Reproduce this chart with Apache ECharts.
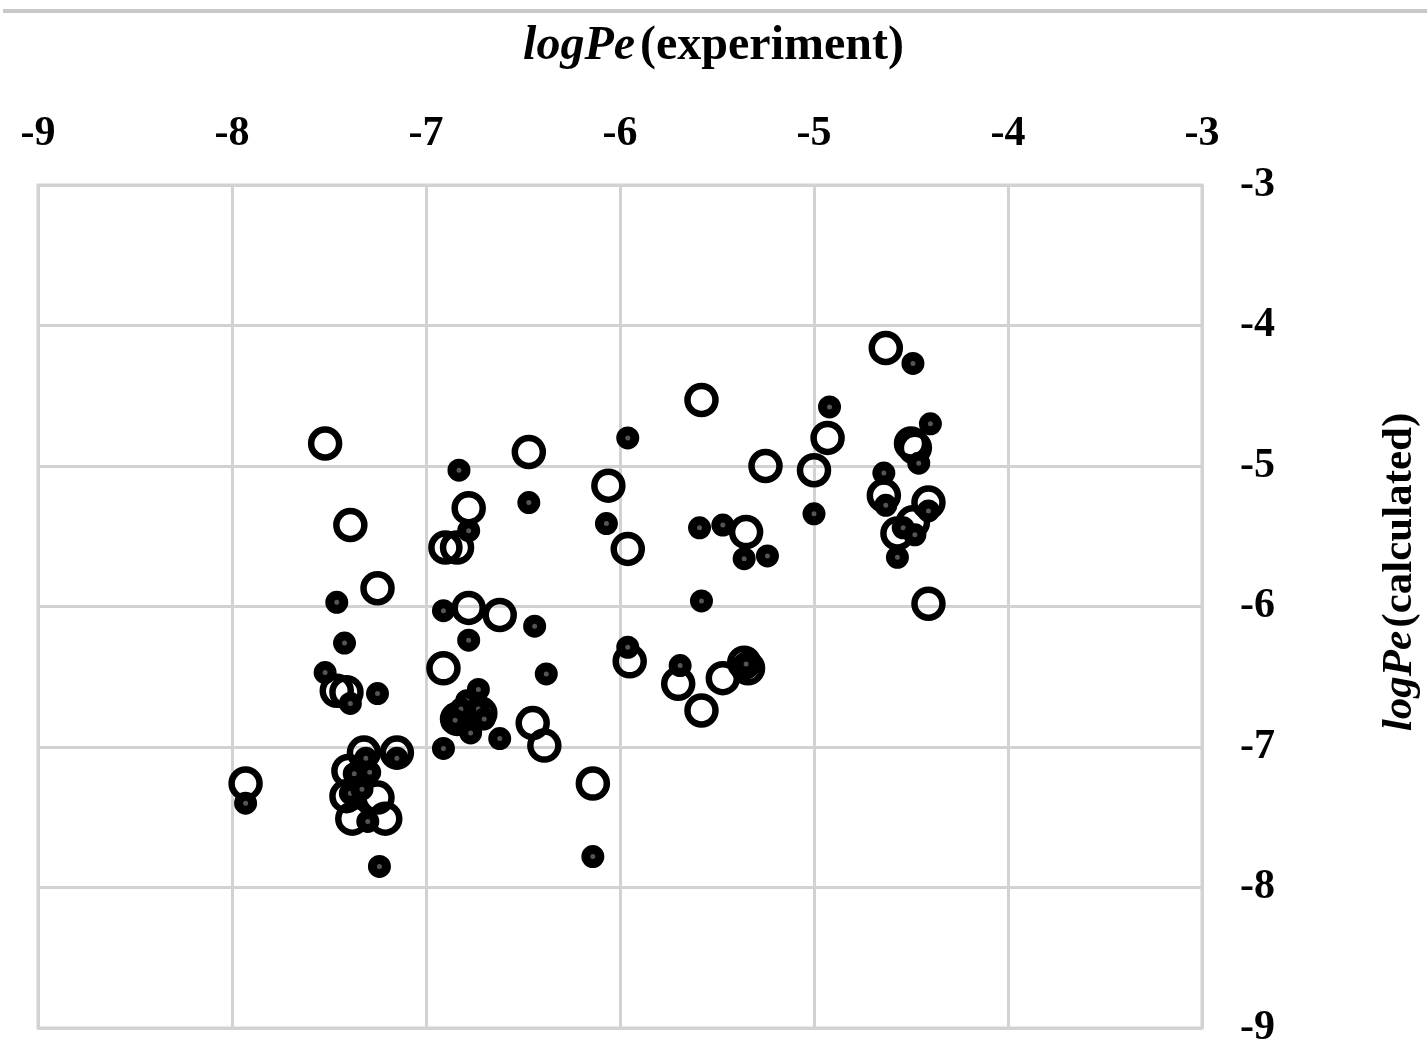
<!DOCTYPE html>
<html>
<head>
<meta charset="utf-8">
<script src="https://cdn.jsdelivr.net/npm/echarts@6/dist/echarts.min.js"></script>
<style>
  html, body { margin: 0; padding: 0; background: #fff; }
  #chart { width: 1427px; height: 1054px; }
</style>
</head>
<body>
<div id="chart"></div>
<script>
const xTicks = [-9, -8, -7, -6, -5, -4, -3];
const yTicks = [-9, -8, -7, -6, -5, -4, -3];

// open rings: experiment vs calculated
const openX = [
  -7.93, -7.52, -7.39, -7.25, -7.46, -7.41, -7.32, -7.15, -7.40, -7.41, -7.25, -7.38, -7.21,
  -6.47, -6.78, -6.90, -6.84, -6.78, -6.62, -6.91, -6.84, -6.72, -6.45, -6.39,
  -6.06, -5.96, -5.95, -5.70, -5.58, -5.35, -5.25, -5.47, -5.34, -5.36, -5.58, -6.14,
  -4.93, -5.00, -4.63, -4.48, -4.50, -4.64, -4.41, -4.57, -4.49, -4.41
];
const openY = [
  -7.26, -4.84, -5.42, -5.87, -6.60, -6.61, -7.04, -7.04, -7.17, -7.35, -7.36, -7.51, -7.51,
  -4.90, -5.30, -5.58, -5.58, -6.01, -6.06, -6.44, -6.80, -6.76, -6.83, -6.99,
  -5.14, -5.59, -6.39, -6.55, -4.53, -5.47, -5.00, -6.51, -6.44, -6.40, -6.74, -7.26,
  -4.80, -5.03, -4.16, -4.87, -4.84, -5.21, -5.26, -5.48, -5.40, -5.98
];

// small filled dots
const dotX = [
  -7.93, -7.46, -7.42, -7.52, -7.39, -7.25, -7.31, -7.15, -7.37, -7.29, -7.39, -7.33, -7.30, -7.24,
  -6.83, -6.47, -6.78, -6.91, -6.44, -6.78, -6.38, -6.73, -6.79, -6.82, -6.73, -6.85, -6.70, -6.77, -6.62, -6.91,
  -5.96, -6.07, -5.96, -5.69, -5.59, -5.47, -5.36, -5.24, -5.58, -5.35, -6.14,
  -4.92, -5.00, -4.49, -4.40, -4.46, -4.64, -4.63, -4.41, -4.54, -4.48, -4.57
];
const dotY = [
  -7.40, -5.97, -6.26, -6.47, -6.69, -6.62, -7.08, -7.08, -7.19, -7.18, -7.33, -7.30, -7.53, -7.85,
  -5.03, -5.26, -5.46, -6.03, -6.14, -6.24, -6.48, -6.59, -6.67, -6.73, -6.73, -6.81, -6.80, -6.90, -6.94, -7.01,
  -4.80, -5.41, -6.29, -6.42, -5.44, -5.42, -5.66, -5.64, -5.96, -6.41, -7.78,
  -4.58, -5.34, -4.27, -4.70, -4.98, -5.05, -5.28, -5.32, -5.44, -5.49, -5.65
];

const FONT = '"Liberation Serif", "Times New Roman", serif';

function pairs(xs, ys) {
  return xs.map((x, i) => [x, ys[i]]);
}

const chart = echarts.init(document.getElementById('chart'), null, {renderer: 'canvas'});

const labelStyle = {
  fontFamily: FONT,
  fontWeight: 'bold',
  fontSize: 42,
  color: '#000'
};

chart.setOption({
  animation: false,
  backgroundColor: '#fff',
  title: {
    left: 'center',
    top: 18,
    text: '{i|logPe} {n|(experiment)}',
    textStyle: {
      rich: {
        i: {fontFamily: FONT, fontWeight: 'bold', fontStyle: 'italic', fontSize: 48, color: '#000'},
        n: {fontFamily: FONT, fontWeight: 'bold', fontSize: 48, color: '#000'}
      }
    }
  },
  graphic: [
    {
      type: 'rect',
      shape: {x: 3, y: 9, width: 1424, height: 4},
      style: {fill: '#c8c8c8'}
    },
    {
      type: 'text',
      x: 1400,
      y: 572,
      rotation: Math.PI / 2,
      style: {
        text: '{i|logPe} {n|(calculated)}',
        align: 'center',
        verticalAlign: 'middle',
        rich: {
          i: {fontFamily: FONT, fontWeight: 'bold', fontStyle: 'italic', fontSize: 43, fill: '#000'},
          n: {fontFamily: FONT, fontWeight: 'bold', fontSize: 43, fill: '#000'}
        }
      }
    }
  ],
  grid: {
    left: 38,
    right: 225,
    top: 185,
    bottom: 26,
    show: true,
    borderColor: '#d2d2d2',
    borderWidth: 3
  },
  xAxis: {
    type: 'value',
    position: 'top',
    min: xTicks[0],
    max: xTicks[xTicks.length - 1],
    interval: 1,
    axisLine: {show: false},
    axisTick: {show: false},
    axisLabel: Object.assign({margin: 30, showMinLabel: true, showMaxLabel: true}, labelStyle),
    splitLine: {lineStyle: {color: '#d2d2d2', width: 3}}
  },
  yAxis: {
    type: 'value',
    position: 'right',
    min: yTicks[0],
    max: yTicks[yTicks.length - 1],
    interval: 1,
    axisLine: {show: false},
    axisTick: {show: false},
    axisLabel: Object.assign({margin: 38, showMinLabel: true, showMaxLabel: true}, labelStyle),
    splitLine: {lineStyle: {color: '#d2d2d2', width: 3}}
  },
  series: [
    {
      name: 'open',
      type: 'scatter',
      symbol: 'circle',
      symbolSize: 28,
      data: pairs(openX, openY),
      itemStyle: {color: 'rgba(255,255,255,0)', borderColor: '#000', borderWidth: 6.5, opacity: 1},
      emphasis: {disabled: true}
    },
    {
      name: 'filled',
      type: 'scatter',
      symbol: 'circle',
      symbolSize: 14,
      data: pairs(dotX, dotY),
      itemStyle: {color: '#555', borderColor: '#000', borderWidth: 9, opacity: 1},
      emphasis: {disabled: true}
    }
  ]
});
</script>
</body>
</html>
